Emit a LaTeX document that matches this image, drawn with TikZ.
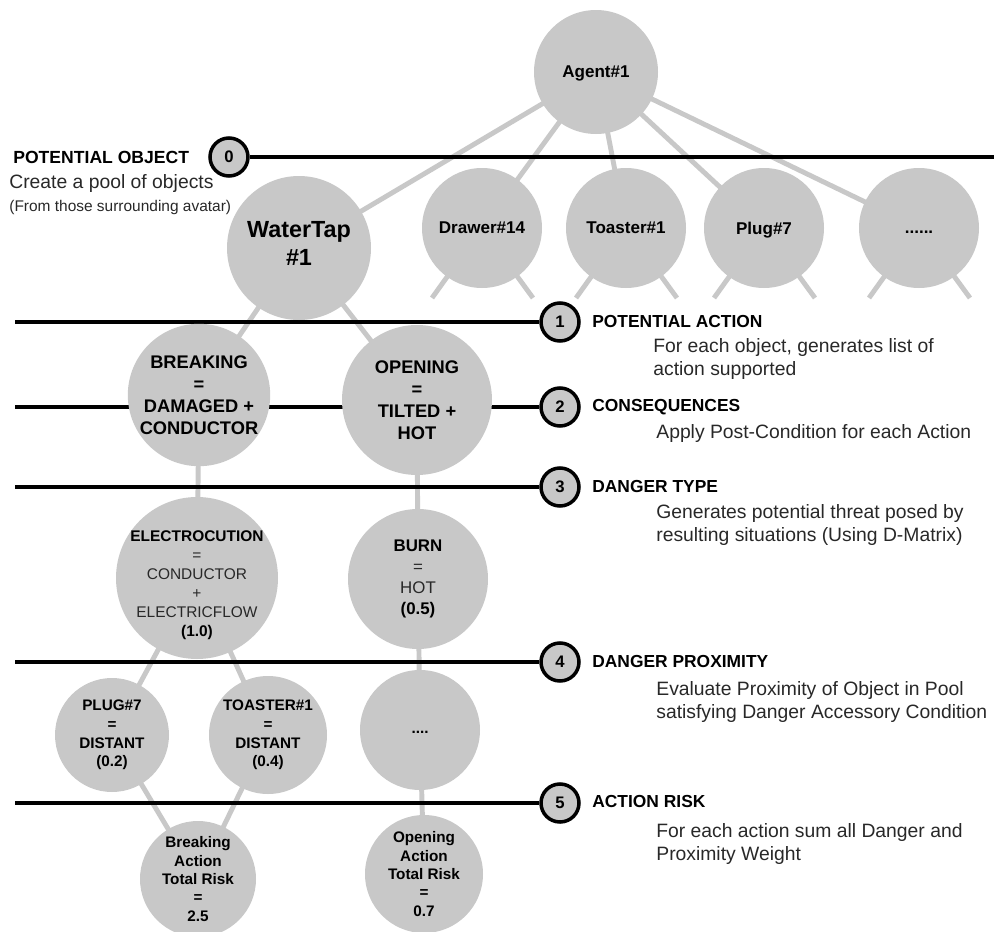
\documentclass[tikz,border=0pt]{standalone}
\usepackage{fontspec}
\setmainfont{Liberation Sans}
\usetikzlibrary{backgrounds}
\definecolor{cgray}{RGB}{200,200,200}
\definecolor{dtext}{RGB}{40,40,40}
\begin{document}
\begin{tikzpicture}[x=0.2mm,y=-0.2mm,
  bub/.style={circle, fill=cgray, inner sep=0pt, minimum size={#1*0.4mm}, align=center},
  txt/.style={align=center, inner sep=0pt},
  lvl/.style={circle, fill=cgray, draw=black, line width=2pt, inner sep=0pt, minimum size=7.6mm, font=\fontsize{9.5}{11}\selectfont\bfseries},
  conn/.style={draw=cgray, line width=2.8pt},
  stage/.style={draw=black, line width=2pt},
  ttl/.style={anchor=west, font=\fontsize{9.9}{11}\selectfont\bfseries, inner sep=0pt},
  desc/.style={anchor=west, align=left, font=\fontsize{11}{13.6}\selectfont, text=dtext, inner sep=0pt},
  fobj/.style={font=\fontsize{9.7}{11}\selectfont\bfseries, text depth=0pt},
  fact/.style={font=\fontsize{10.4}{12.5}\selectfont\bfseries},
  fsm/.style={font=\fontsize{8.7}{10.6}\selectfont\bfseries},
]
\useasboundingbox (0,0) rectangle (994,932);
\clip (0,0) rectangle (994,932);

% ---------- nodes ----------
\node[bub=62, fobj] (agent) at (596,72) {Agent\#1};
\node[bub=72] (wt) at (299,248) {};
\node[txt, font=\fontsize{13.3}{15.9}\selectfont\bfseries] (wtT) at (299,243) {WaterTap\\\#1};
\node[bub=60, fobj] (drawer) at (482,228) {Drawer\#14};
\node[bub=60, fobj] (toaster) at (626,228) {Toaster\#1};
\node[bub=60, fobj] (plug) at (764,228) {Plug\#7};
\node[bub=60, fobj] (more) at (919,228) {\vphantom{A}......};

\node[bub=69, fact] (breaking) at (199,395) {BREAKING\\=\\DAMAGED +\\CONDUCTOR};
\node[bub=75, fact] (opening) at (417,400) {OPENING\\=\\TILTED +\\HOT};

\node[bub=81] (elec) at (197,578) {};
\node[txt, font=\fontsize{8.8}{10.8}\selectfont, text=dtext] (elecT) at (197,585)
  {{\bfseries\color{black}ELECTROCUTION}\\=\\CONDUCTOR\\+\\ELECTRICFLOW\\{\bfseries\color{black}(1.0)}};
\node[bub=70, font=\fontsize{9.6}{12}\selectfont, text=dtext] (burn) at (418,579)
  {{\bfseries\color{black}BURN}\\=\\HOT\\{\bfseries\color{black}(0.5)}};

\node[bub=57, fsm] (pplug) at (112,735) {PLUG\#7\\=\\DISTANT\\(0.2)};
\node[bub=59, fsm] (ptoaster) at (268,735) {TOASTER\#1\\=\\DISTANT\\(0.4)};
\node[bub=60, fsm] (pdots) at (420,730) {\vphantom{Ag}....};

\node[bub=58, font=\fontsize{8.7}{10.5}\selectfont\bfseries] (rbreak) at (198,879) {Breaking\\Action\\Total Risk\\=\\2.5};
\node[bub=59, font=\fontsize{8.7}{10.5}\selectfont\bfseries] (ropen) at (424,874) {Opening\\Action\\Total Risk\\=\\0.7};

% level markers
\node[lvl] (l0) at (229,157) {0};
\node[lvl] (l1) at (560,322) {1};
\node[lvl] (l2) at (560,407) {2};
\node[lvl] (l3) at (560,487) {3};
\node[lvl] (l4) at (560,662) {4};
\node[lvl] (l5) at (560,803) {5};

% free ends
\coordinate (e0) at (994,157);
\coordinate (s1) at (15,322);
\coordinate (s2) at (15,407);
\coordinate (s3) at (15,487);
\coordinate (s4) at (15,662);
\coordinate (s5) at (15,803);
\foreach \n/\cx in {drawer/482, toaster/626, plug/764, more/919}{
  \coordinate (\n L) at (\cx-50,298);
  \coordinate (\n R) at (\cx+51,298);
}

% labels
\node[ttl, font=\fontsize{10}{11}\selectfont\bfseries] (t0) at (13,157) {POTENTIAL OBJECT};
\node[desc] (d0a) at (9,184) {Create a pool of objects};
\node[desc, font=\fontsize{8.8}{10}\selectfont] (d0b) at (9,207) {(From those surrounding avatar)};

\node[ttl] (t1) at (592,322) {POTENTIAL ACTION};
\node[desc] (d1) at (653,359) {For each object, generates list of\\action supported};
\node[ttl] (t2) at (592,407) {CONSEQUENCES};
\node[desc] (d2) at (656,433) {Apply Post-Condition for each Action};
\node[ttl] (t3) at (592,487) {DANGER TYPE};
\node[desc] (d3) at (656,525) {Generates potential threat posed by\\resulting situations (Using D-Matrix)};
\node[ttl] (t4) at (592,662) {DANGER PROXIMITY};
\node[desc] (d4) at (656,702) {Evaluate Proximity of Object in Pool\\satisfying Danger Accessory Condition};
\node[ttl] (t5) at (592,802) {ACTION RISK};
\node[desc] (d5) at (656,844) {For each action sum all Danger and\\Proximity Weight};

% ---------- connectors & stage lines (behind) ----------
\begin{pgfonlayer}{background}
  \draw[conn] (agent.center) -- (wt.center);
  \draw[conn] (agent.center) -- (drawer.center);
  \draw[conn] (agent.center) -- (toaster.center);
  \draw[conn] (agent.center) -- (plug.center);
  \draw[conn] (agent.center) -- (more.center);
  \foreach \n in {drawer, toaster, plug, more}{
    \draw[conn] (\n.center) -- (\n L);
    \draw[conn] (\n.center) -- (\n R);
  }
  \draw[conn] (wt.center) -- (breaking.center);
  \draw[conn] (wt.center) -- (opening.center);
  \draw[conn] (breaking.center) -- (elec.center);
  \draw[conn] (opening.center) -- (burn.center);
  \draw[conn] (elec.center) -- (pplug.center);
  \draw[conn] (elec.center) -- (ptoaster.center);
  \draw[conn] (burn.center) -- (pdots.center);
  \draw[conn] (pplug.center) -- (rbreak.center);
  \draw[conn] (ptoaster.center) -- (rbreak.center);
  \draw[conn] (pdots.center) -- (ropen.center);

  \draw[stage] (l0) -- (e0);
  \draw[stage] (s1) -- (l1);
  \draw[stage] (s2) -- (l2);
  \draw[stage] (s3) -- (l3);
  \draw[stage] (s4) -- (l4);
  \draw[stage] (s5) -- (l5);
\end{pgfonlayer}
\end{tikzpicture}
\end{document}
